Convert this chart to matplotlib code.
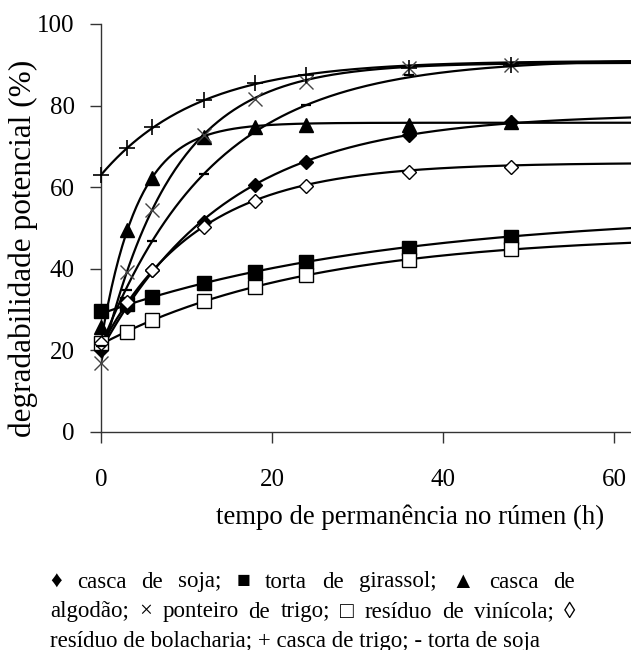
import numpy as np
import matplotlib
matplotlib.use("Agg")
import matplotlib.pyplot as plt

plt.rcParams['font.family'] = ['Liberation Serif', 'DejaVu Serif']

# ---- data ----
times = [0, 3, 6, 12, 18, 24, 36, 48]

casca_soja = [20.1, 30.7, 39.7, 51.5, 60.5, 66.1, 72.8, 76.0]
torta_girassol = [29.7, 31.4, 33.2, 36.4, 39.3, 41.7, 45.2, 47.9]
casca_algodao = [25.8, 49.5, 62.2, 72.4, 74.8, 75.2, 75.2, 76.0]
ponteiro_trigo = [17.0, 39.3, 54.4, 72.8, 81.6, 85.9, 89.1, 90.0]
residuo_vinicola = [21.7, 24.6, 27.5, 32.2, 35.6, 38.5, 42.2, 44.8]
residuo_bolacharia = [21.8, 31.9, 39.7, 50.3, 56.5, 60.2, 63.8, 65.0]
casca_trigo = [63.0, 69.5, 74.8, 81.4, 85.5, 87.4, 89.1, 90.0]
torta_soja = [21.0, 34.8, 46.8, 63.2, 73.5, 80.1, 87.5, 89.7]

# fitted degradation curves  p = a + b (1 - exp(-c t)), parameters
fit_a = [20.0, 29.0, 22.0, 17.0, 21.5, 21.0, 63.0, 21.0]
fit_b = [58.0, 25.0, 53.8, 73.5, 27.0, 45.0, 28.0, 70.5]
fit_c = [0.067, 0.0295, 0.232, 0.119, 0.041, 0.088, 0.088, 0.076]

x_ticks = [0, 20, 40, 60]
y_ticks = [0, 20, 40, 60, 80, 100]

legend_lines = [
    "\u2666 casca de soja; \u25a0 torta de girassol; \u25b2 casca de",
    "algod\u00e3o; \u00d7 ponteiro de trigo; \u25a1 res\u00edduo de vin\u00edcola; \u25ca",
    "res\u00edduo de bolacharia; + casca de trigo; - torta de soja",
]

series = [casca_soja, torta_girassol, casca_algodao, ponteiro_trigo,
          residuo_vinicola, residuo_bolacharia, casca_trigo, torta_soja]

styles = [
    dict(marker='D', ms=7.5, mfc='black', mec='black', mew=1.0),
    dict(marker='s', ms=9.5, mfc='black', mec='black', mew=1.0),
    dict(marker='^', ms=9.5, mfc='black', mec='black', mew=1.0),
    dict(marker='x', ms=10, mfc='none', mec='#444444', mew=1.0),
    dict(marker='s', ms=9.5, mfc='white', mec='black', mew=1.0),
    dict(marker='D', ms=7.5, mfc='white', mec='black', mew=1.0),
    dict(marker='+', ms=11, mfc='none', mec='black', mew=1.2),
    dict(marker='_', ms=7, mfc='none', mec='black', mew=1.6),
]

W, H = 631, 650
fig = plt.figure(figsize=(W / 100, H / 100), dpi=100)
ax = fig.add_axes([101 / W, (H - 432) / H, (W - 101) / W, 408 / H])

xmax = 62
tt = np.linspace(0, xmax, 300)
for a, b, c in zip(fit_a, fit_b, fit_c):
    ax.plot(tt, a + b * (1 - np.exp(-c * tt)), color='black', lw=1.6, zorder=2)

for vals, st in zip(series, styles):
    ax.plot(times, vals, ls='none', zorder=3, clip_on=False, **st)

ax.set_xlim(0, xmax)
ax.set_ylim(0, 100)
ax.set_xticks(x_ticks)
ax.set_yticks(y_ticks)
for s in ['top', 'right']:
    ax.spines[s].set_visible(False)
for s in ['left', 'bottom']:
    ax.spines[s].set_color('#333333')
    ax.spines[s].set_linewidth(1.0)
ax.tick_params(direction='out', length=8, width=1.0, color='#333333',
               labelsize=18)
ax.tick_params(axis='x', pad=19)
ax.tick_params(axis='y', pad=11)

fig.text(410 / W, 1 - 517 / H, "tempo de permanência no rúmen (h)",
         ha='center', va='center', fontsize=19.3)
fig.text(23 / W, 1 - 248 / H, "degradabilidade potencial (%)",
         ha='center', va='center', rotation=90, fontsize=22.5)

# legend text block (justified as in the reference)
fig.canvas.draw()
renderer = fig.canvas.get_renderer()
left_px, right_px = 50, 575
base_y = [582, 612, 641]
fs = 16.5
for i, line in enumerate(legend_lines):
    y = 1 - base_y[i] / H
    if i < 2:
        words = line.split(' ')
        tobjs = [fig.text(0, y, w, fontsize=fs, va='center', ha='left') for w in words]
        widths = [t.get_window_extent(renderer).width for t in tobjs]
        gap = (right_px - left_px - sum(widths)) / (len(words) - 1)
        x = left_px
        for t, w in zip(tobjs, widths):
            t.set_x(x / W)
            x += w + gap
    else:
        fig.text(left_px / W, y, line, fontsize=fs, va='center', ha='left')

fig.savefig("out.png", dpi=100)
